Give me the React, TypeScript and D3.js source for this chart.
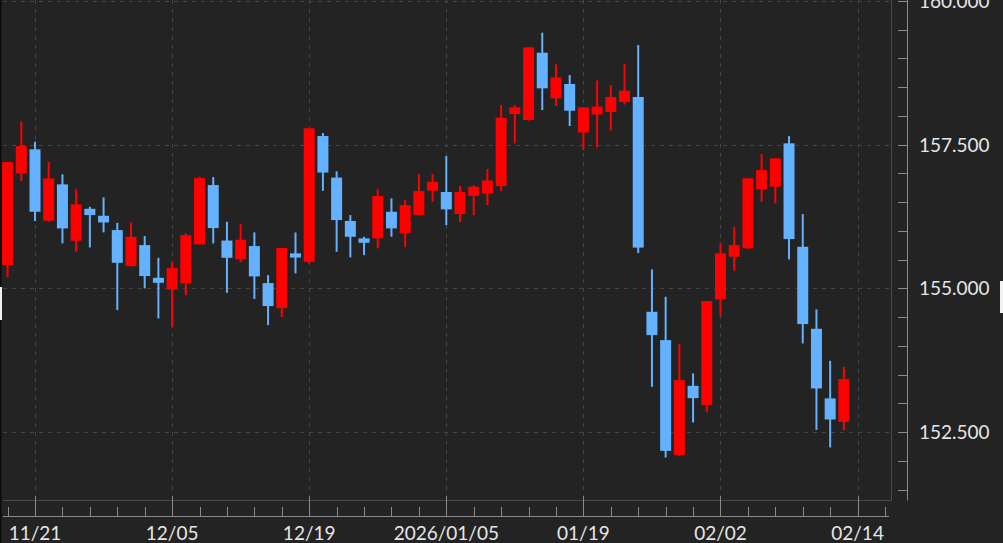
import React from "react";
import * as d3 from "d3";

// ---- data (USD/JPY daily candles) ----
const dates = [
  "11/19","11/20","11/21","11/24","11/25","11/26","11/27","11/28",
  "12/01","12/02","12/03","12/04","12/05","12/08","12/09","12/10","12/11","12/12",
  "12/15","12/16","12/17","12/18","12/19","12/22","12/23","12/24","12/25","12/26",
  "12/29","12/30","12/31","01/02","01/05","01/06","01/07","01/08","01/09",
  "01/12","01/13","01/14","01/15","01/16","01/19","01/20","01/21","01/22","01/23",
  "01/26","01/27","01/28","01/29","01/30","02/02","02/03","02/04","02/05","02/06",
  "02/09","02/10","02/11","02/12","02/13",
];
const opens = [
  155.406,157.002,157.420,156.177,156.810,155.829,156.386,156.264,
  156.015,155.389,155.754,155.185,154.980,155.088,155.766,156.798,155.833,155.505,
  155.737,155.093,154.658,155.610,155.464,157.651,156.929,156.175,155.871,155.871,
  156.334,155.958,156.276,156.699,156.677,156.294,156.612,156.650,156.781,
  158.034,157.929,159.100,158.307,158.556,157.712,158.025,158.069,158.243,158.330,
  154.594,154.101,152.100,153.306,152.970,154.809,155.551,155.697,156.724,156.769,
  157.524,155.725,154.298,153.087,152.680,
];
const highs = [
  157.199,157.900,157.552,157.204,156.985,156.724,156.421,156.584,
  156.142,156.146,155.911,155.533,155.459,155.958,156.943,156.938,156.160,156.120,
  155.975,155.232,155.702,155.972,157.785,157.703,157.037,156.276,155.899,156.724,
  156.567,156.537,156.990,156.990,157.303,156.781,156.798,157.077,158.190,
  158.190,159.194,159.448,158.899,158.712,158.150,158.617,158.538,158.904,159.234,
  155.331,154.855,154.032,153.522,154.780,155.794,156.073,156.915,157.338,157.263,
  157.651,156.294,154.635,153.741,153.637,
];
const lows = [
  155.198,156.873,156.172,156.160,155.784,155.638,155.714,155.975,
  154.623,155.380,155.001,154.479,154.333,154.884,155.763,155.784,154.924,155.455,
  154.818,154.362,154.502,155.262,155.432,156.699,155.638,155.540,155.580,155.697,
  155.899,155.725,156.270,156.508,156.102,156.155,156.276,156.450,156.694,
  157.524,157.920,158.103,158.173,157.825,157.407,157.454,157.750,158.199,155.615,
  153.289,152.060,152.090,152.669,152.854,154.519,155.307,155.690,156.508,156.480,
  155.506,154.044,152.540,152.234,152.535,
];
const closes = [
  157.199,157.477,156.334,156.915,156.045,156.462,156.276,156.149,
  155.446,155.899,155.215,155.098,155.354,155.928,156.920,156.050,155.533,155.847,
  155.210,154.693,155.702,155.537,157.785,157.016,156.189,155.899,155.794,156.607,
  156.045,156.450,156.694,156.856,156.375,156.677,156.769,156.877,157.969,
  158.150,159.194,158.481,158.672,158.091,158.150,158.164,158.330,158.439,155.711,
  154.188,152.175,153.405,153.092,154.780,155.610,155.754,156.915,157.059,157.263,
  155.859,154.380,153.261,152.721,153.423,
];

const xTickSlots = [2, 12, 22, 32, 42, 52, 62];
const xTickLabels = ["11/21", "12/05", "12/19", "2026/01/05", "01/19", "02/02", "02/14"];
const yTickValues = [152.5, 155, 157.5, 160];

// ---- styling ----
const W = 1003;
const H = 543;
const BG = "#232323";
const UP = "#ff0000";
const DOWN = "#64b2ff";
const GRID = "#454545";
const AXIS = "#8a8a8a";
const TEXT = "#e6e6e6";
const FONT = "Lato, 'Open Sans', sans-serif";

export default function App() {
  const plotBottom = 500.5;
  const plotRight = 891.5;
  const x = d3.scaleLinear().domain([0, 64]).range([7.6, 885]);
  const y = d3.scaleLinear().domain([151.32, 160]).range([500, 1]);

  const minorX = d3.range(0, 65, 2);
  const minorY = d3.range(151.5, 160.01, 0.5);
  const bodyW = 11;

  return (
    <svg
      width={W}
      height={H}
      style={{ position: "fixed", left: 0, top: 0, display: "block", background: BG }}
    >
      <rect x={0} y={0} width={W} height={H} fill={BG} />

      {/* horizontal dashed grid */}
      {yTickValues.map((v) => (
        <line
          key={"hg" + v}
          x1={3}
          x2={plotRight}
          y1={Math.round(y(v)) + 0.5}
          y2={Math.round(y(v)) + 0.5}
          stroke={GRID}
          strokeWidth={1}
          strokeDasharray="4,5"
        />
      ))}
      {/* vertical dashed grid */}
      {xTickSlots.map((s) => (
        <line
          key={"vg" + s}
          x1={Math.round(x(s)) + 0.5}
          x2={Math.round(x(s)) + 0.5}
          y1={0}
          y2={plotBottom}
          stroke={GRID}
          strokeWidth={1}
          strokeDasharray="4,5"
        />
      ))}

      {/* plot frame */}
      <line x1={3} x2={plotRight} y1={plotBottom} y2={plotBottom} stroke="#4a4a4a" strokeWidth={1} />
      <line x1={plotRight} x2={plotRight} y1={0} y2={plotBottom} stroke="#4a4a4a" strokeWidth={1} />

      {/* candles */}
      {dates.map((d, i) => {
        const o = opens[i];
        const c = closes[i];
        const up = c >= o;
        const col = up ? UP : DOWN;
        const cx = x(i);
        const top = y(Math.max(o, c));
        const bot = y(Math.min(o, c));
        return (
          <g key={d}>
            <rect x={cx - 1} y={y(highs[i])} width={2} height={Math.max(1, y(lows[i]) - y(highs[i]))} fill={col} />
            <rect x={cx - bodyW / 2} y={top} width={bodyW} height={Math.max(2, bot - top)} fill={col} />
          </g>
        );
      })}

      {/* x axis */}
      <line x1={3} x2={889} y1={516.5} y2={516.5} stroke={AXIS} strokeWidth={1} />
      {minorX.map((s) => {
        const major = xTickSlots.includes(s);
        const px = Math.round(x(s)) + 0.5;
        return (
          <line key={"xt" + s} x1={px} x2={px} y1={major ? 496 : 507} y2={516.5} stroke={AXIS} strokeWidth={1} />
        );
      })}
      {xTickSlots.map((s, k) => (
        <text
          key={"xl" + s}
          x={x(s)}
          y={540}
          textAnchor="middle"
          fill={TEXT}
          fontFamily={FONT}
          fontSize={19}
        >
          {xTickLabels[k]}
        </text>
      ))}

      {/* y axis */}
      <line x1={907.5} x2={907.5} y1={0} y2={plotBottom} stroke={AXIS} strokeWidth={1} />
      {minorY.map((v) => {
        const py = Math.round(y(v)) + 0.5;
        return <line key={"yt" + v} x1={898} x2={907.5} y1={py} y2={py} stroke={AXIS} strokeWidth={1} />;
      })}
      {yTickValues.map((v) => (
        <text
          key={"yl" + v}
          x={919}
          y={y(v) + 7}
          fill={TEXT}
          fontFamily={FONT}
          fontSize={19}
        >
          {d3.format(".3f")(v)}
        </text>
      ))}

      {/* edge details */}
      <rect x={0} y={0} width={1.5} height={H} fill="#0c0c0c" />
      <rect x={0} y={287} width={2} height={33} fill="#f2f2f2" />
      <rect x={1000} y={281} width={3} height={32} fill="#f2f2f2" />
    </svg>
  );
}
